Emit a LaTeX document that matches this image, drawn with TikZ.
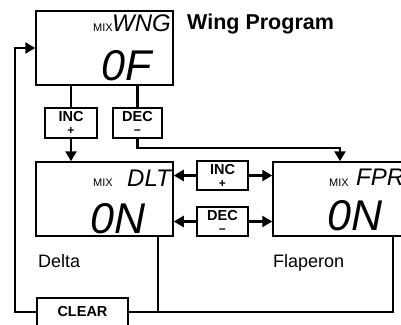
\documentclass[tikz,border=0pt]{standalone}
\usepackage{fontspec}
\setmainfont{Liberation Sans}
\usetikzlibrary{arrows.meta}
\begin{document}
\begin{tikzpicture}[x=1pt,y=-1pt,
  screen/.style={draw=black, line width=1.5pt, minimum height=74pt, inner sep=0pt},
  keybox/.style={draw=black, line width=1.4pt, align=center, inner sep=0pt,
    font=\fontsize{14.5}{13}\selectfont\bfseries},
  conn/.style={draw=black, line width=2.4pt},
  arr/.style={conn, -{Triangle[length=10pt,width=11pt]}},
  mixlbl/.style={anchor=base east, inner sep=0pt, font=\fontsize{11}{11}\selectfont},
  lcdsmall/.style={inner sep=0pt, font=\fontsize{24}{24}\selectfont\itshape},
  lcdbig/.style={anchor=base east, inner sep=0pt, font=\fontsize{43}{43}\selectfont\itshape},
  caption/.style={anchor=base west, inner sep=0pt, font=\fontsize{18}{18}\selectfont}]
\useasboundingbox (0,0) rectangle (401,324);
\fill[white] (0,0) rectangle (401,324);
% screens
\node[screen, minimum width=137pt] (wng) at (104.5,48) {};
\node[screen, minimum width=137pt] (dlt) at (104.5,199) {};
\node[screen, minimum width=150pt] (fpr) at (348,199) {};
% keys
\node[keybox, minimum width=52pt, minimum height=30pt] (inc1) at (71,123) {INC\\{\fontsize{12}{13}\selectfont +}};
\node[keybox, minimum width=49pt, minimum height=30pt] (dec1) at (137.5,123) {DEC\\{\fontsize{12}{13}\selectfont −}};
\node[keybox, minimum width=51pt, minimum height=29pt] (inc2) at (222.5,175.5) {INC\\{\fontsize{12}{13}\selectfont +}};
\node[keybox, minimum width=51pt, minimum height=29pt] (dec2) at (222.5,221.5) {DEC\\{\fontsize{12}{13}\selectfont −}};
\node[keybox, minimum width=91pt, minimum height=28pt] (clear) at (82.5,312) {CLEAR};
% screen texts
\node[mixlbl] (mix1) at (113,31) {MIX};
\node[lcdsmall, anchor=base east] (wngt) at (171,31) {WNG};
\node[lcdbig] (of) at (152,80) {0F};
\node[mixlbl] (mix2) at (113,186) {MIX};
\node[lcdsmall, anchor=base east] (dltt) at (171,186) {DLT};
\node[lcdbig] (on1) at (146,233) {0N};
\node[mixlbl] (mix3) at (349,186) {MIX};
\node[lcdsmall, anchor=base west] (fprt) at (356,185) {FPR};
\node[lcdbig] (on2) at (383,230) {0N};
% captions
\node[anchor=base west, inner sep=0pt, font=\fontsize{21.5}{21.5}\selectfont\bfseries] (title) at (187,29) {Wing Program};
\node[caption] (delta) at (38,267) {Delta};
\node[caption] (flap) at (273,267) {Flaperon};
% connectors
\draw[conn] (inc1.north |- wng.south) -- (inc1.north);
\draw[arr] (inc1.south) -- (inc1.south |- dlt.north);
\draw[conn] (dec1.north |- wng.south) -- (dec1.north);
\draw[arr] (dec1.south) -- ([yshift=-9pt]dec1.south) -| ([xshift=-8pt]fpr.north);
\draw[arr] (inc2.west) -- (inc2.west -| dlt.east);
\draw[arr] (inc2.east) -- (inc2.east -| fpr.west);
\draw[arr] (dec2.west) -- (dec2.west -| dlt.east);
\draw[arr] (dec2.east) -- (dec2.east -| fpr.west);
\draw[conn] ([xshift=53.5pt]dlt.south) -- ([xshift=53.5pt]dlt.south |- clear.east);
\draw[conn] (clear.east) -| ([xshift=45pt]fpr.south);
\coordinate (loop) at (15,312);
\draw[arr] (clear.west) -- (loop) |- (wng.west);
\end{tikzpicture}
\end{document}
